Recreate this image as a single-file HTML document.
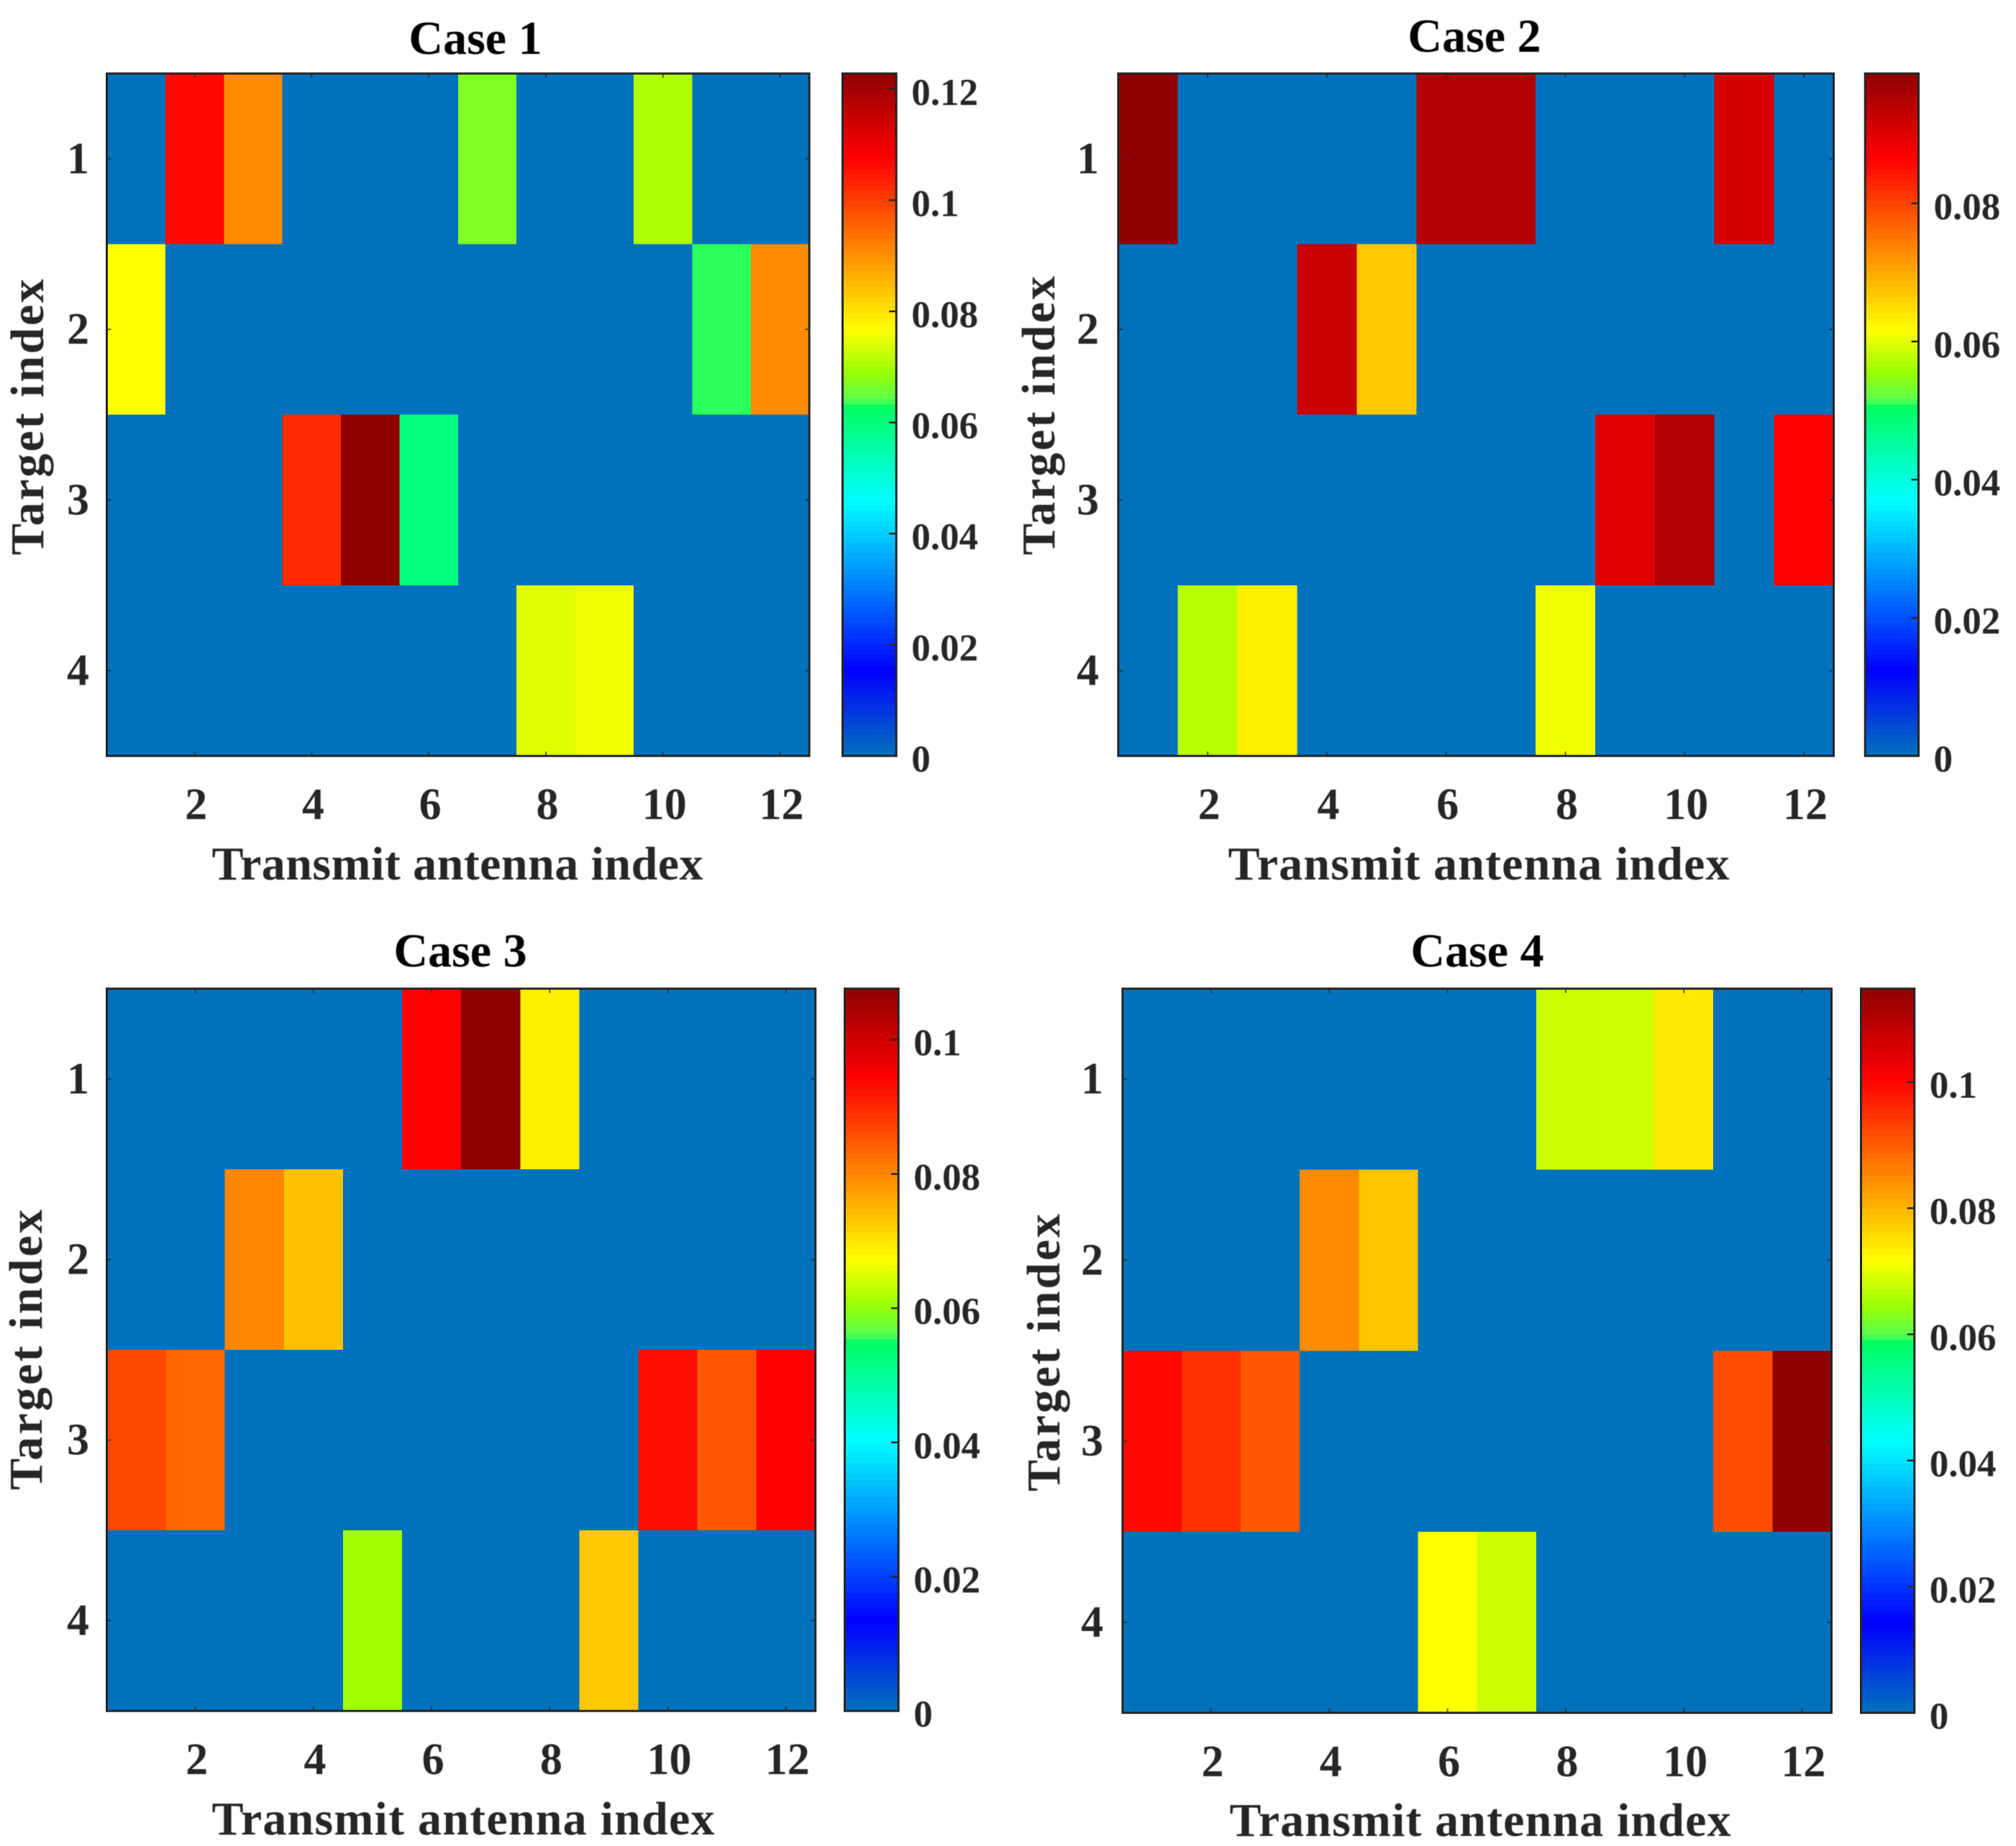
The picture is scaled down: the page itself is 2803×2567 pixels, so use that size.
<!DOCTYPE html>
<html lang="en">
<head>
<meta charset="utf-8">
<title>Transmit antenna heatmaps, cases 1 to 4</title>
<style>
  html, body { margin: 0; padding: 0; background: #fff; }
  svg { display: block; }
  text { font-family: "Liberation Serif", "Times New Roman", serif; font-weight: bold; filter: blur(0.6px); }
</style>
</head>
<body>
<svg id="figure" xmlns="http://www.w3.org/2000/svg" width="2803" height="2567" viewBox="0 0 2803 2567"></svg>
<script>
/* ---------- chart data ---------- */
const xTickValues = [2, 4, 6, 8, 10, 12];
const yTickValues = [1, 2, 3, 4];

const case1Values = [
  [0, 0.1065, 0.0906, 0, 0, 0, 0.0670, 0, 0, 0.0707, 0, 0],
  [0.0768, 0, 0, 0, 0, 0, 0, 0, 0, 0, 0.0634, 0.0906],
  [0, 0, 0, 0.1024, 0.1228, 0.0602, 0, 0, 0, 0, 0, 0],
  [0, 0, 0, 0, 0, 0, 0, 0.0744, 0.0756, 0, 0, 0]
];
const case2Values = [
  [0.0988, 0, 0, 0, 0, 0.0952, 0.0952, 0, 0, 0, 0.0907, 0],
  [0, 0, 0, 0.0921, 0.0671, 0, 0, 0, 0, 0, 0, 0],
  [0, 0, 0, 0, 0, 0, 0, 0, 0.0899, 0.0951, 0, 0.0865],
  [0, 0.0574, 0.0632, 0, 0, 0, 0, 0.0608, 0, 0, 0, 0]
];
const case3Values = [
  [0, 0, 0, 0, 0, 0.0942, 0.1076, 0.0688, 0, 0, 0, 0],
  [0, 0, 0.0798, 0.0739, 0, 0, 0, 0, 0, 0, 0, 0],
  [0.0866, 0.0834, 0, 0, 0, 0, 0, 0, 0, 0.0925, 0.0849, 0.0942],
  [0, 0, 0, 0, 0.0609, 0, 0, 0, 0.0731, 0, 0, 0]
];
const case4Values = [
  [0, 0, 0, 0, 0, 0, 0, 0.0681, 0.0683, 0.0743, 0, 0],
  [0, 0, 0, 0.0847, 0.0784, 0, 0, 0, 0, 0, 0, 0],
  [0.0995, 0.0951, 0.0905, 0, 0, 0, 0, 0, 0, 0, 0.0919, 0.1148],
  [0, 0, 0, 0, 0, 0.0718, 0.0681, 0, 0, 0, 0, 0]
];

const case1ColorTicks = [0, 0.02, 0.04, 0.06, 0.08, 0.1, 0.12];
const case2ColorTicks = [0, 0.02, 0.04, 0.06, 0.08];
const case3ColorTicks = [0, 0.02, 0.04, 0.06, 0.08, 0.1];
const case4ColorTicks = [0, 0.02, 0.04, 0.06, 0.08, 0.1];

const case1ColorMax = 0.1228;
const case2ColorMax = 0.0988;
const case3ColorMax = 0.1076;
const case4ColorMax = 0.1148;

const caseTitles = ["Case 1", "Case 2", "Case 3", "Case 4"];
const xAxisTitle = "Transmit antenna index";
const yAxisTitle = "Target index";

/* ---------- layout (independent of the data) ---------- */
const layouts = [
  { ax: [148.5, 1125.2, 102.2, 1051.2], cb: [1171.5, 1246.2], title: [661, 75],   xl: [636, 1223, 683],  yl: [60, 580, 384],  ytr: 124 },
  { ax: [1554.8, 2549.5, 102.2, 1051.2], cb: [2593.2, 2667.5], title: [2050, 72], xl: [2056, 1223, 697], yl: [1466, 578, 388], ytr: 1528 },
  { ax: [148.5, 1133.8, 1374.8, 2379.2], cb: [1174.5, 1249.2], title: [640, 1344], xl: [644, 2551, 699], yl: [58, 1877, 390],  ytr: 124 },
  { ax: [1560.8, 2546.5, 1374.8, 2381.8], cb: [2587.5, 2661.8], title: [2054, 1344], xl: [2058, 2553, 697], yl: [1473, 1881, 386], ytr: 1534 }
];
const matrices = [case1Values, case2Values, case3Values, case4Values];
const colorTicks = [case1ColorTicks, case2ColorTicks, case3ColorTicks, case4ColorTicks];
const colorMaxes = [case1ColorMax, case2ColorMax, case3ColorMax, case4ColorMax];

/* ---------- colormap: modified jet with a step near the middle ---------- */
const stops = [
  [0, 0, 114, 189], [0.125, 0, 0, 255], [0.375, 0, 255, 255],
  [0.511, 0, 255, 100], [0.522, 90, 255, 80], [0.56, 150, 255, 5],
  [0.625, 255, 255, 0], [0.875, 255, 0, 0], [1, 143, 0, 0]
];
function colormap(f) {
  const t = Math.max(0, Math.min(1, f));
  for (let i = 1; i < stops.length; i++) {
    if (t <= stops[i][0]) {
      const a = stops[i - 1], b = stops[i];
      const k = (t - a[0]) / (b[0] - a[0]);
      const c = [1, 2, 3].map(function (n) { return Math.round(a[n] + (b[n] - a[n]) * k); });
      return "rgb(" + c.join(",") + ")";
    }
  }
  return "rgb(143,0,0)";
}

/* ---------- drawing helpers ---------- */
const NS = "http://www.w3.org/2000/svg";
const svg = document.getElementById("figure");
function make(parent, tag, attrs, txt) {
  const el = document.createElementNS(NS, tag);
  for (const k in attrs) el.setAttribute(k, attrs[k]);
  if (txt !== undefined) el.textContent = txt;
  parent.appendChild(el);
  return el;
}
const INK = "#262626";

function drawPanel(p) {
  const L = layouts[p], values = matrices[p], cmax = colorMaxes[p];
  const [x0, x1, y0, y1] = L.ax;
  const nRows = values.length, nCols = values[0].length;
  /* data-index axes: index i sits at the centre of its cell, range 0.5 .. n+0.5 */
  const xScale = function (v) { return x0 + (v - 0.5) / nCols * (x1 - x0); };
  const yScale = function (v) { return y0 + (v - 0.5) / nRows * (y1 - y0); };
  const cScale = function (v) { return y1 - v / cmax * (y1 - y0); };

  const g = make(svg, "g", {});
  
  

  const title = make(g, "text", { x: L.title[0], y: L.title[1], "text-anchor": "middle", "font-size": 66, fill: "#000" }, caseTitles[p]);
  
  

  values.forEach(function (row, r) {
    row.forEach(function (v, c) {
      const cell = make(g, "rect", {
        x: xScale(c + 0.5), y: yScale(r + 0.5),
        width: xScale(c + 1.5) - xScale(c + 0.5), height: yScale(r + 1.5) - yScale(r + 0.5),
        fill: colormap(v / cmax), "shape-rendering": "crispEdges"
      });
      
      
    });
  });

  const frame = make(g, "rect", { x: x0, y: y0, width: x1 - x0, height: y1 - y0, fill: "none", stroke: INK, "stroke-width": 3 });
  
  

  xTickValues.forEach(function (t) {
    const x = xScale(t);
    [[y1, y1 - 6], [y0, y0 + 6]].forEach(function (s) {
      const mark = make(g, "line", { x1: x, x2: x, y1: s[0], y2: s[1], stroke: INK, "stroke-width": 2, opacity: 0.7 });
      
      
    });
    const lab = make(g, "text", { x: x + 2, y: y1 + 88, "text-anchor": "middle", "font-size": 62, fill: INK }, String(t));
    
    
  });

  yTickValues.forEach(function (t) {
    const y = yScale(t);
    [[x0, x0 + 6], [x1, x1 - 6]].forEach(function (s) {
      const mark = make(g, "line", { x1: s[0], x2: s[1], y1: y, y2: y, stroke: INK, "stroke-width": 2, opacity: 0.7 });
      
      
    });
    const lab = make(g, "text", { x: L.ytr, y: y + 20, "text-anchor": "end", "font-size": 62, fill: INK }, String(t));
    
    
  });

  const xl = make(g, "text", { x: L.xl[0], y: L.xl[1], "text-anchor": "middle", "font-size": 66, fill: INK, textLength: L.xl[2], lengthAdjust: "spacing" }, xAxisTitle);
  
  

  const yl = make(g, "text", { transform: "translate(" + L.yl[0] + "," + L.yl[1] + ") rotate(-90)", "text-anchor": "middle", "font-size": 66, fill: INK, textLength: L.yl[2], lengthAdjust: "spacing" }, yAxisTitle);
  
  

  /* colorbar */
  const [c0, c1] = L.cb;
  const bar = make(g, "g", {});
  
  
  const steps = 128;
  for (let i = 0; i < steps; i++) {
    const vLo = cmax * i / steps, vHi = cmax * (i + 1) / steps;
    const strip = make(bar, "rect", {
      x: c0, y: cScale(vHi), width: c1 - c0, height: cScale(vLo) - cScale(vHi) + 0.6,
      fill: colormap((i + 0.5) / steps), "shape-rendering": "crispEdges"
    });
    
    
  }
  const cframe = make(bar, "rect", { x: c0, y: y0, width: c1 - c0, height: y1 - y0, fill: "none", stroke: INK, "stroke-width": 3 });
  
  

  colorTicks[p].forEach(function (t) {
    const y = cScale(t);
    if (t > 0) {
      const mark = make(bar, "line", { x1: c1, x2: c1 - 10, y1: y, y2: y, stroke: INK, "stroke-width": 2.5 });
      
      
    }
    const lab = make(bar, "text", { x: c1 + 21, y: y + 22, "font-size": 53, fill: INK }, String(t));
    
    
  });
}

layouts.forEach(function (_, p) { drawPanel(p); });
</script>
</body>
</html>
